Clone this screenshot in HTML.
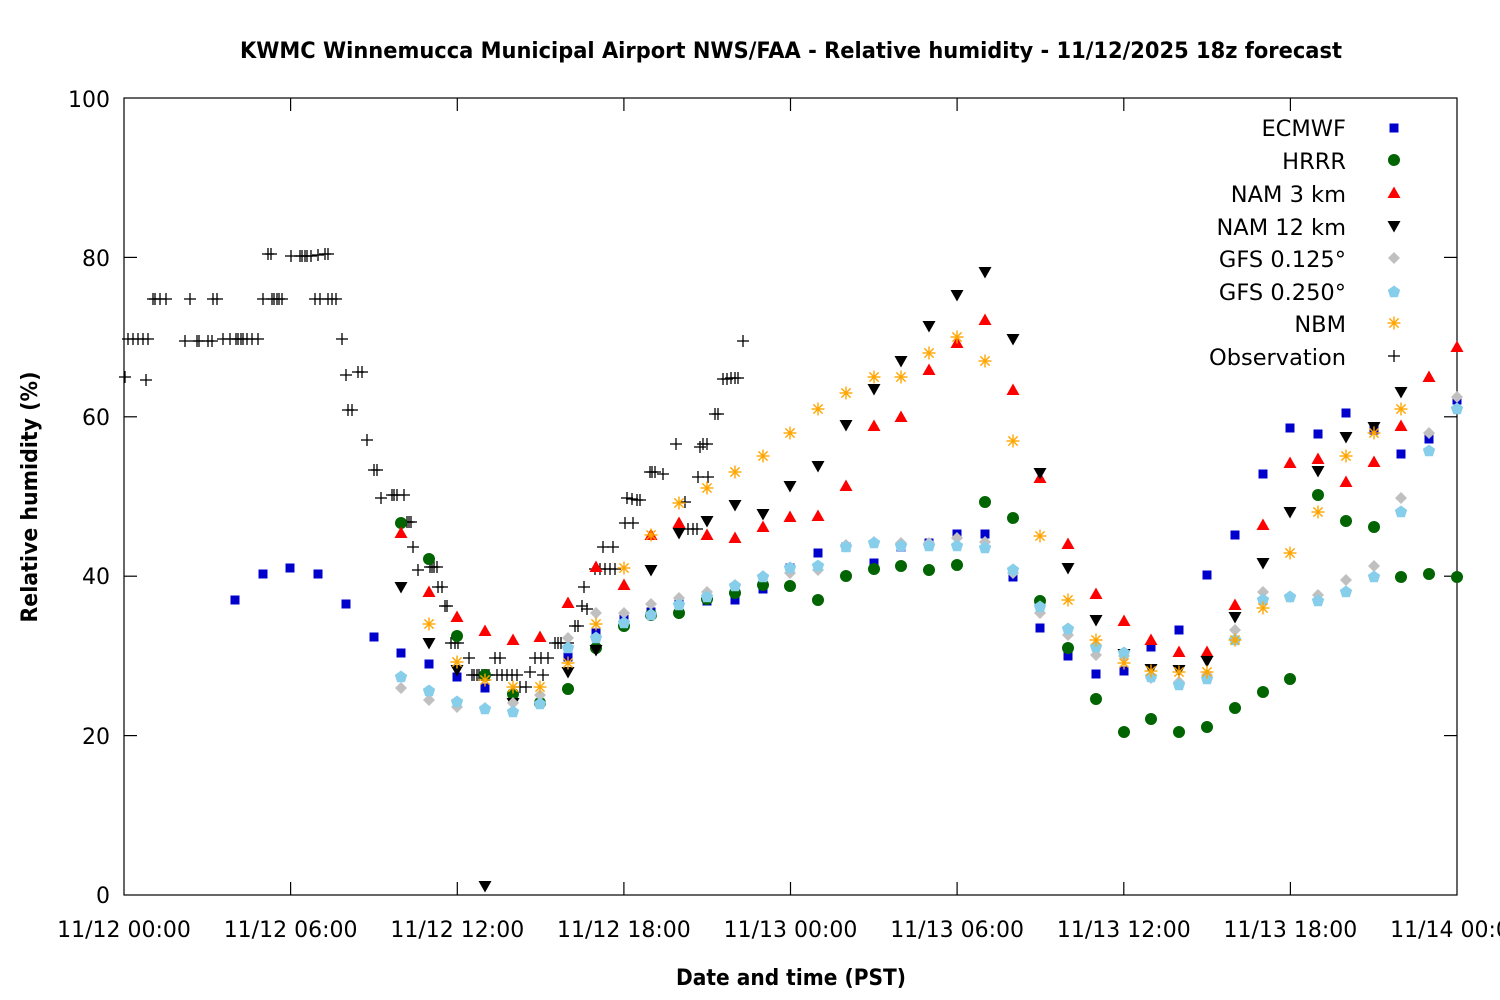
<!DOCTYPE html>
<html><head><meta charset="utf-8"><style>
html,body{margin:0;padding:0;background:#fff;}
svg{display:block;}
text{font-family:"DejaVu Sans","Liberation Sans",sans-serif;fill:#000;}
</style></head><body>
<svg width="1500" height="1000" viewBox="0 0 1500 1000" xmlns="http://www.w3.org/2000/svg">
<defs>
<rect id="sq" x="-4.5" y="-4.5" width="9" height="9" fill="#0000cc"/>
<circle id="ci" r="6" fill="#006400"/>
<polygon id="tu" points="0,-6.5 6.5,5 -6.5,5" fill="#ff0000"/>
<polygon id="td" points="0,6.5 6.5,-5 -6.5,-5" fill="#000"/>
<polygon id="di" points="0,-6 6,0 0,6 -6,0" fill="#c0c0c0"/>
<polygon id="pe" points="0,-6.5 6.2,-2 3.8,5.3 -3.8,5.3 -6.2,-2" fill="#87ceeb"/>
<g id="as" stroke="#ffa500" stroke-width="1.4"><line x1="-6.5" y1="0" x2="6.5" y2="0"/><line x1="0" y1="-6.5" x2="0" y2="6.5"/><line x1="-4.6" y1="-4.6" x2="4.6" y2="4.6"/><line x1="-4.6" y1="4.6" x2="4.6" y2="-4.6"/></g>
<g id="pl" stroke="#000" stroke-width="1.3"><line x1="-6" y1="0" x2="6" y2="0"/><line x1="0" y1="-6" x2="0" y2="6"/></g>
</defs>

<text x="791" y="58" text-anchor="middle" font-weight="bold" font-size="22" textLength="1102" lengthAdjust="spacingAndGlyphs">KWMC Winnemucca Municipal Airport NWS/FAA - Relative humidity - 11/12/2025 18z forecast</text>

<rect x="124" y="98" width="1333" height="797" fill="none" stroke="#000" stroke-width="1.2"/>
<g stroke="#000" stroke-width="1.2">
<line x1="124" y1="735.6" x2="137" y2="735.6"/><line x1="1444" y1="735.6" x2="1457" y2="735.6"/>
<line x1="124" y1="576.2" x2="137" y2="576.2"/><line x1="1444" y1="576.2" x2="1457" y2="576.2"/>
<line x1="124" y1="416.8" x2="137" y2="416.8"/><line x1="1444" y1="416.8" x2="1457" y2="416.8"/>
<line x1="124" y1="257.4" x2="137" y2="257.4"/><line x1="1444" y1="257.4" x2="1457" y2="257.4"/>
<line x1="290.6" y1="895" x2="290.6" y2="882"/><line x1="290.6" y1="98" x2="290.6" y2="111"/>
<line x1="457.3" y1="895" x2="457.3" y2="882"/><line x1="457.3" y1="98" x2="457.3" y2="111"/>
<line x1="623.9" y1="895" x2="623.9" y2="882"/><line x1="623.9" y1="98" x2="623.9" y2="111"/>
<line x1="790.5" y1="895" x2="790.5" y2="882"/><line x1="790.5" y1="98" x2="790.5" y2="111"/>
<line x1="957.1" y1="895" x2="957.1" y2="882"/><line x1="957.1" y1="98" x2="957.1" y2="111"/>
<line x1="1123.8" y1="895" x2="1123.8" y2="882"/><line x1="1123.8" y1="98" x2="1123.8" y2="111"/>
<line x1="1290.4" y1="895" x2="1290.4" y2="882"/><line x1="1290.4" y1="98" x2="1290.4" y2="111"/>
</g>

<g font-size="22" text-anchor="end">
<text x="110" y="903">0</text>
<text x="110" y="744">20</text>
<text x="110" y="584">40</text>
<text x="110" y="425">60</text>
<text x="110" y="266">80</text>
<text x="110" y="107">100</text>
</g>
<g font-size="22" text-anchor="middle">
<text x="124" y="937">11/12 00:00</text>
<text x="290.6" y="937">11/12 06:00</text>
<text x="457.3" y="937">11/12 12:00</text>
<text x="623.9" y="937">11/12 18:00</text>
<text x="790.5" y="937">11/13 00:00</text>
<text x="957.1" y="937">11/13 06:00</text>
<text x="1123.8" y="937">11/13 12:00</text>
<text x="1290.4" y="937">11/13 18:00</text>
<text x="1457" y="937">11/14 00:00</text>
</g>
<text x="791" y="985" text-anchor="middle" font-weight="bold" font-size="22" textLength="230" lengthAdjust="spacingAndGlyphs">Date and time (PST)</text>
<text transform="translate(37,497) rotate(-90)" text-anchor="middle" font-weight="bold" font-size="22" textLength="251" lengthAdjust="spacingAndGlyphs">Relative humidity (%)</text>

<g font-size="22.5" text-anchor="end">
<text x="1346" y="136">ECMWF</text>
<text x="1346" y="169">HRRR</text>
<text x="1346" y="202">NAM 3 km</text>
<text x="1346" y="235">NAM 12 km</text>
<text x="1346" y="267">GFS 0.125°</text>
<text x="1346" y="300">GFS 0.250°</text>
<text x="1346" y="332">NBM</text>
<text x="1346" y="365">Observation</text>
</g>
<use href="#sq" x="1394" y="128"/>
<use href="#ci" x="1394" y="160"/>
<use href="#tu" x="1394" y="193"/>
<use href="#td" x="1394" y="226"/>
<use href="#di" x="1394" y="258"/>
<use href="#pe" x="1394" y="292"/>
<use href="#as" x="1394" y="323"/>
<use href="#pl" x="1394" y="356"/>

<g>
<use href="#pl" x="125" y="377"/><use href="#pl" x="146" y="380"/>
<use href="#pl" x="128" y="339"/><use href="#pl" x="133" y="339"/><use href="#pl" x="138" y="339"/><use href="#pl" x="143" y="339"/><use href="#pl" x="148" y="339"/>
<use href="#pl" x="153" y="299"/><use href="#pl" x="155" y="299"/><use href="#pl" x="160" y="299"/><use href="#pl" x="166" y="299"/><use href="#pl" x="190" y="299"/><use href="#pl" x="213" y="299"/><use href="#pl" x="217" y="299"/><use href="#pl" x="263" y="299"/><use href="#pl" x="272" y="299"/><use href="#pl" x="274" y="299"/><use href="#pl" x="277" y="299"/><use href="#pl" x="279" y="299"/><use href="#pl" x="282" y="299"/><use href="#pl" x="315" y="299"/><use href="#pl" x="320" y="299"/><use href="#pl" x="328" y="299"/><use href="#pl" x="332" y="299"/><use href="#pl" x="336" y="299"/>
<use href="#pl" x="185" y="341"/><use href="#pl" x="197" y="341"/><use href="#pl" x="199" y="341"/><use href="#pl" x="208" y="341"/><use href="#pl" x="212" y="341"/><use href="#pl" x="223" y="339"/><use href="#pl" x="230" y="339"/><use href="#pl" x="236" y="339"/><use href="#pl" x="238" y="339"/><use href="#pl" x="241" y="339"/><use href="#pl" x="243" y="339"/><use href="#pl" x="247" y="339"/><use href="#pl" x="252" y="339"/><use href="#pl" x="258" y="339"/>
<use href="#pl" x="268" y="254"/><use href="#pl" x="271" y="254"/><use href="#pl" x="291" y="256"/><use href="#pl" x="300" y="256"/><use href="#pl" x="302" y="256"/><use href="#pl" x="305" y="256"/><use href="#pl" x="307" y="256"/><use href="#pl" x="311" y="256"/><use href="#pl" x="318" y="255"/><use href="#pl" x="325" y="254"/><use href="#pl" x="328" y="254"/>
<use href="#pl" x="342" y="339"/><use href="#pl" x="346" y="375"/><use href="#pl" x="358" y="372"/><use href="#pl" x="362" y="372"/><use href="#pl" x="348" y="410"/><use href="#pl" x="352" y="410"/>
<use href="#pl" x="367" y="440"/><use href="#pl" x="374" y="470"/><use href="#pl" x="377" y="470"/><use href="#pl" x="381" y="498"/><use href="#pl" x="392" y="495"/><use href="#pl" x="394" y="495"/><use href="#pl" x="397" y="495"/><use href="#pl" x="404" y="495"/>
<use href="#pl" x="407" y="522"/><use href="#pl" x="409" y="522"/><use href="#pl" x="411" y="522"/><use href="#pl" x="413" y="547"/><use href="#pl" x="418" y="570"/><use href="#pl" x="430" y="567"/><use href="#pl" x="432" y="567"/><use href="#pl" x="434" y="567"/><use href="#pl" x="437" y="567"/>
<use href="#pl" x="438" y="587"/><use href="#pl" x="442" y="587"/><use href="#pl" x="445" y="606"/><use href="#pl" x="447" y="606"/><use href="#pl" x="451" y="643"/><use href="#pl" x="455" y="643"/><use href="#pl" x="458" y="643"/><use href="#pl" x="469" y="658"/>
<use href="#pl" x="472" y="675"/><use href="#pl" x="474" y="675"/><use href="#pl" x="477" y="675"/><use href="#pl" x="479" y="675"/><use href="#pl" x="482" y="675"/><use href="#pl" x="484" y="675"/><use href="#pl" x="487" y="675"/><use href="#pl" x="489" y="675"/>
<use href="#pl" x="495" y="658"/><use href="#pl" x="500" y="658"/><use href="#pl" x="497" y="675"/><use href="#pl" x="502" y="675"/><use href="#pl" x="507" y="675"/><use href="#pl" x="512" y="675"/><use href="#pl" x="517" y="675"/>
<use href="#pl" x="520" y="687"/><use href="#pl" x="526" y="687"/><use href="#pl" x="530" y="672"/><use href="#pl" x="543" y="675"/>
<use href="#pl" x="535" y="658"/><use href="#pl" x="541" y="658"/><use href="#pl" x="548" y="658"/>
<use href="#pl" x="555" y="643"/><use href="#pl" x="558" y="643"/><use href="#pl" x="561" y="643"/><use href="#pl" x="568" y="643"/>
<use href="#pl" x="575" y="626"/><use href="#pl" x="578" y="626"/><use href="#pl" x="582" y="606"/><use href="#pl" x="587" y="609"/><use href="#pl" x="584" y="587"/>
<use href="#pl" x="595" y="569"/><use href="#pl" x="600" y="569"/><use href="#pl" x="605" y="569"/><use href="#pl" x="610" y="569"/><use href="#pl" x="615" y="569"/>
<use href="#pl" x="603" y="547"/><use href="#pl" x="613" y="547"/><use href="#pl" x="625" y="523"/><use href="#pl" x="633" y="523"/>
<use href="#pl" x="627" y="498"/><use href="#pl" x="632" y="499"/><use href="#pl" x="637" y="500"/><use href="#pl" x="640" y="500"/>
<use href="#pl" x="650" y="472"/><use href="#pl" x="652" y="472"/><use href="#pl" x="655" y="472"/><use href="#pl" x="663" y="474"/>
<use href="#pl" x="676" y="444"/><use href="#pl" x="685" y="502"/><use href="#pl" x="688" y="529"/><use href="#pl" x="693" y="529"/><use href="#pl" x="697" y="529"/>
<use href="#pl" x="698" y="477"/><use href="#pl" x="708" y="477"/><use href="#pl" x="700" y="447"/><use href="#pl" x="703" y="444"/><use href="#pl" x="707" y="444"/>
<use href="#pl" x="715" y="414"/><use href="#pl" x="718" y="414"/>
<use href="#pl" x="723" y="379"/><use href="#pl" x="727" y="379"/><use href="#pl" x="731" y="378"/><use href="#pl" x="735" y="378"/><use href="#pl" x="738" y="378"/>
<use href="#pl" x="743" y="341"/>
</g>

<g>
<use href="#sq" x="235" y="600"/><use href="#sq" x="263" y="574"/><use href="#sq" x="290" y="568"/><use href="#sq" x="318" y="574"/><use href="#sq" x="346" y="604"/><use href="#sq" x="374" y="637"/><use href="#sq" x="401" y="653"/><use href="#sq" x="429" y="664"/><use href="#sq" x="457" y="677"/><use href="#sq" x="485" y="688"/><use href="#sq" x="513" y="697"/><use href="#sq" x="540" y="703"/><use href="#sq" x="568" y="657"/><use href="#sq" x="596" y="633"/><use href="#sq" x="624" y="618"/><use href="#sq" x="651" y="612"/><use href="#sq" x="679" y="603"/><use href="#sq" x="707" y="601"/><use href="#sq" x="735" y="600"/><use href="#sq" x="763" y="589"/><use href="#sq" x="790" y="568"/><use href="#sq" x="818" y="553"/><use href="#sq" x="846" y="547"/><use href="#sq" x="874" y="563"/><use href="#sq" x="901" y="547"/><use href="#sq" x="929" y="543"/><use href="#sq" x="957" y="534"/><use href="#sq" x="985" y="534"/><use href="#sq" x="1013" y="577"/><use href="#sq" x="1040" y="628"/><use href="#sq" x="1068" y="656"/><use href="#sq" x="1096" y="674"/><use href="#sq" x="1124" y="671"/><use href="#sq" x="1151" y="647"/><use href="#sq" x="1179" y="630"/><use href="#sq" x="1207" y="575"/><use href="#sq" x="1235" y="535"/><use href="#sq" x="1263" y="474"/><use href="#sq" x="1290" y="428"/><use href="#sq" x="1318" y="434"/><use href="#sq" x="1346" y="413"/><use href="#sq" x="1374" y="430"/><use href="#sq" x="1401" y="454"/><use href="#sq" x="1429" y="439"/><use href="#sq" x="1457" y="400"/>
</g>
<g>
<use href="#ci" x="401" y="523"/><use href="#ci" x="429" y="559"/><use href="#ci" x="457" y="636"/><use href="#ci" x="485" y="675"/><use href="#ci" x="513" y="694"/><use href="#ci" x="540" y="703"/><use href="#ci" x="568" y="689"/><use href="#ci" x="596" y="648"/><use href="#ci" x="624" y="626"/><use href="#ci" x="651" y="615"/><use href="#ci" x="679" y="613"/><use href="#ci" x="707" y="599"/><use href="#ci" x="735" y="593"/><use href="#ci" x="763" y="585"/><use href="#ci" x="790" y="586"/><use href="#ci" x="818" y="600"/><use href="#ci" x="846" y="576"/><use href="#ci" x="874" y="569"/><use href="#ci" x="901" y="566"/><use href="#ci" x="929" y="570"/><use href="#ci" x="957" y="565"/><use href="#ci" x="985" y="502"/><use href="#ci" x="1013" y="518"/><use href="#ci" x="1040" y="601"/><use href="#ci" x="1068" y="648"/><use href="#ci" x="1096" y="699"/><use href="#ci" x="1124" y="732"/><use href="#ci" x="1151" y="719"/><use href="#ci" x="1179" y="732"/><use href="#ci" x="1207" y="727"/><use href="#ci" x="1235" y="708"/><use href="#ci" x="1263" y="692"/><use href="#ci" x="1290" y="679"/><use href="#ci" x="1318" y="495"/><use href="#ci" x="1346" y="521"/><use href="#ci" x="1374" y="527"/><use href="#ci" x="1401" y="577"/><use href="#ci" x="1429" y="574"/><use href="#ci" x="1457" y="577"/>
</g>
<g>
<use href="#tu" x="401" y="533"/><use href="#tu" x="429" y="592"/><use href="#tu" x="457" y="617"/><use href="#tu" x="485" y="631"/><use href="#tu" x="513" y="640"/><use href="#tu" x="540" y="637"/><use href="#tu" x="568" y="603"/><use href="#tu" x="596" y="567"/><use href="#tu" x="624" y="585"/><use href="#tu" x="651" y="535"/><use href="#tu" x="679" y="523"/><use href="#tu" x="707" y="535"/><use href="#tu" x="735" y="538"/><use href="#tu" x="763" y="527"/><use href="#tu" x="790" y="517"/><use href="#tu" x="818" y="516"/><use href="#tu" x="846" y="486"/><use href="#tu" x="874" y="426"/><use href="#tu" x="901" y="417"/><use href="#tu" x="929" y="370"/><use href="#tu" x="957" y="343"/><use href="#tu" x="985" y="320"/><use href="#tu" x="1013" y="390"/><use href="#tu" x="1040" y="478"/><use href="#tu" x="1068" y="544"/><use href="#tu" x="1096" y="594"/><use href="#tu" x="1124" y="621"/><use href="#tu" x="1151" y="640"/><use href="#tu" x="1179" y="652"/><use href="#tu" x="1207" y="652"/><use href="#tu" x="1235" y="605"/><use href="#tu" x="1263" y="525"/><use href="#tu" x="1290" y="463"/><use href="#tu" x="1318" y="459"/><use href="#tu" x="1346" y="482"/><use href="#tu" x="1374" y="462"/><use href="#tu" x="1401" y="426"/><use href="#tu" x="1429" y="377"/><use href="#tu" x="1457" y="347"/>
</g>
<g>
<use href="#td" x="401" y="587"/><use href="#td" x="429" y="643"/><use href="#td" x="457" y="670"/><use href="#td" x="485" y="886"/><use href="#td" x="513" y="703"/><use href="#td" x="568" y="672"/><use href="#td" x="596" y="650"/><use href="#td" x="651" y="570"/><use href="#td" x="679" y="533"/><use href="#td" x="707" y="521"/><use href="#td" x="735" y="505"/><use href="#td" x="763" y="514"/><use href="#td" x="790" y="486"/><use href="#td" x="818" y="466"/><use href="#td" x="846" y="425"/><use href="#td" x="874" y="389"/><use href="#td" x="901" y="361"/><use href="#td" x="929" y="326"/><use href="#td" x="957" y="295"/><use href="#td" x="985" y="272"/><use href="#td" x="1013" y="339"/><use href="#td" x="1040" y="473"/><use href="#td" x="1068" y="568"/><use href="#td" x="1096" y="620"/><use href="#td" x="1124" y="654"/><use href="#td" x="1151" y="669"/><use href="#td" x="1179" y="670"/><use href="#td" x="1207" y="661"/><use href="#td" x="1235" y="617"/><use href="#td" x="1263" y="563"/><use href="#td" x="1290" y="512"/><use href="#td" x="1318" y="471"/><use href="#td" x="1346" y="437"/><use href="#td" x="1374" y="427"/><use href="#td" x="1401" y="392"/>
</g>
<g>
<use href="#di" x="401" y="688"/><use href="#di" x="429" y="700"/><use href="#di" x="457" y="707"/><use href="#di" x="485" y="708"/><use href="#di" x="513" y="703"/><use href="#di" x="540" y="695"/><use href="#di" x="568" y="638"/><use href="#di" x="596" y="613"/><use href="#di" x="624" y="613"/><use href="#di" x="651" y="604"/><use href="#di" x="679" y="598"/><use href="#di" x="707" y="592"/><use href="#di" x="735" y="585"/><use href="#di" x="763" y="576"/><use href="#di" x="790" y="573"/><use href="#di" x="818" y="570"/><use href="#di" x="846" y="545"/><use href="#di" x="874" y="542"/><use href="#di" x="901" y="543"/><use href="#di" x="929" y="543"/><use href="#di" x="957" y="538"/><use href="#di" x="985" y="542"/><use href="#di" x="1013" y="573"/><use href="#di" x="1040" y="613"/><use href="#di" x="1068" y="635"/><use href="#di" x="1096" y="655"/><use href="#di" x="1124" y="656"/><use href="#di" x="1151" y="678"/><use href="#di" x="1179" y="682"/><use href="#di" x="1207" y="675"/><use href="#di" x="1235" y="630"/><use href="#di" x="1263" y="592"/><use href="#di" x="1290" y="597"/><use href="#di" x="1318" y="595"/><use href="#di" x="1346" y="580"/><use href="#di" x="1374" y="566"/><use href="#di" x="1401" y="498"/><use href="#di" x="1429" y="433"/><use href="#di" x="1457" y="397"/>
</g>
<g>
<use href="#pe" x="401" y="677"/><use href="#pe" x="429" y="691"/><use href="#pe" x="457" y="702"/><use href="#pe" x="485" y="709"/><use href="#pe" x="513" y="712"/><use href="#pe" x="540" y="704"/><use href="#pe" x="568" y="648"/><use href="#pe" x="596" y="638"/><use href="#pe" x="624" y="623"/><use href="#pe" x="651" y="615"/><use href="#pe" x="679" y="605"/><use href="#pe" x="707" y="597"/><use href="#pe" x="735" y="586"/><use href="#pe" x="763" y="577"/><use href="#pe" x="790" y="568"/><use href="#pe" x="818" y="566"/><use href="#pe" x="846" y="547"/><use href="#pe" x="874" y="543"/><use href="#pe" x="901" y="546"/><use href="#pe" x="929" y="546"/><use href="#pe" x="957" y="546"/><use href="#pe" x="985" y="548"/><use href="#pe" x="1013" y="570"/><use href="#pe" x="1040" y="607"/><use href="#pe" x="1068" y="629"/><use href="#pe" x="1096" y="647"/><use href="#pe" x="1124" y="653"/><use href="#pe" x="1151" y="677"/><use href="#pe" x="1179" y="685"/><use href="#pe" x="1207" y="679"/><use href="#pe" x="1235" y="640"/><use href="#pe" x="1263" y="600"/><use href="#pe" x="1290" y="597"/><use href="#pe" x="1318" y="601"/><use href="#pe" x="1346" y="592"/><use href="#pe" x="1374" y="577"/><use href="#pe" x="1401" y="512"/><use href="#pe" x="1429" y="451"/><use href="#pe" x="1457" y="409"/>
</g>
<g>
<use href="#as" x="429" y="624"/><use href="#as" x="457" y="662"/><use href="#as" x="485" y="680"/><use href="#as" x="513" y="687"/><use href="#as" x="540" y="687"/><use href="#as" x="568" y="663"/><use href="#as" x="596" y="624"/><use href="#as" x="624" y="568"/><use href="#as" x="651" y="535"/><use href="#as" x="679" y="503"/><use href="#as" x="707" y="488"/><use href="#as" x="735" y="472"/><use href="#as" x="763" y="456"/><use href="#as" x="790" y="433"/><use href="#as" x="818" y="409"/><use href="#as" x="846" y="393"/><use href="#as" x="874" y="377"/><use href="#as" x="901" y="377"/><use href="#as" x="929" y="353"/><use href="#as" x="957" y="337"/><use href="#as" x="985" y="361"/><use href="#as" x="1013" y="441"/><use href="#as" x="1040" y="536"/><use href="#as" x="1068" y="600"/><use href="#as" x="1096" y="640"/><use href="#as" x="1124" y="663"/><use href="#as" x="1151" y="671"/><use href="#as" x="1179" y="672"/><use href="#as" x="1207" y="672"/><use href="#as" x="1235" y="640"/><use href="#as" x="1263" y="608"/><use href="#as" x="1290" y="553"/><use href="#as" x="1318" y="512"/><use href="#as" x="1346" y="456"/><use href="#as" x="1374" y="433"/><use href="#as" x="1401" y="409"/>
</g>
</svg>
</body></html>
